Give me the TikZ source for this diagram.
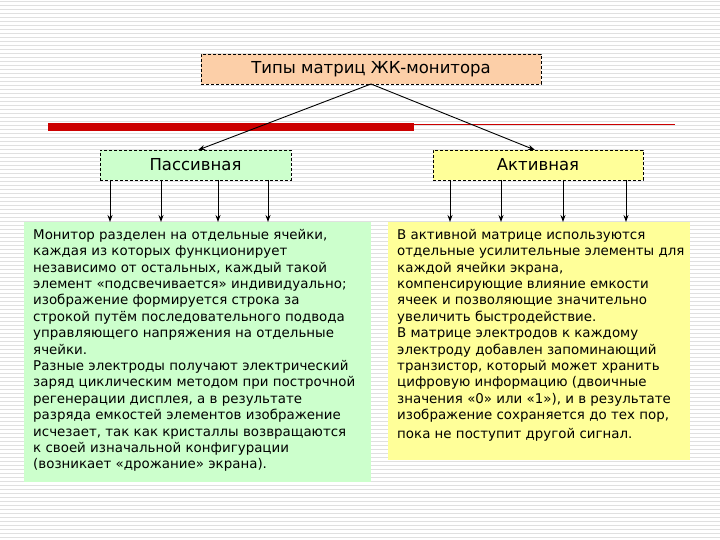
\documentclass[tikz,border=0pt]{standalone}
\usepackage{fontspec}
\setmainfont{DejaVu Sans}
\usetikzlibrary{arrows.meta}
\definecolor{topc}{HTML}{FCCFA8}
\definecolor{greenc}{HTML}{CCFFCC}
\definecolor{yellc}{HTML}{FFFF99}
\definecolor{redc}{HTML}{CC0000}
\begin{document}
\begin{tikzpicture}[x=1pt,y=-1pt,
  hbox/.style={draw=black,dashed,dash pattern=on 3pt off 2pt,minimum height=30pt,inner sep=0pt,font=\fontsize{16.5}{18}\selectfont},
  txt/.style={anchor=north west,inner sep=0pt,align=left,font=\fontsize{13.4}{16.4}\selectfont},
  arr/.style={-{Stealth[length=7pt,width=5pt]},line width=0.9pt}]
\useasboundingbox (0,0) rectangle (720,540);
\fill[white] (0,0) rectangle (720,540);
\foreach \i in {0,...,134} {\draw[black!12,line width=0.6pt] (0,\i*4+1) -- (720,\i*4+1);}
\fill[redc] (48,123) rectangle (414,131);
\draw[redc,line width=0.8pt] (414,124) -- (675,124);
\node[hbox,fill=topc,minimum width=340pt] (top) at (371,69) {Типы матриц ЖК-монитора};
\node[hbox,fill=greenc,minimum width=191pt] (pas) at (195.5,165) {Пассивная};
\node[hbox,fill=yellc,minimum width=210pt] (act) at (538,165) {Активная};
\fill[greenc] (24,222) rectangle (371,482);
\fill[yellc] (388,222) rectangle (690,460);
\node[txt] (lt) at (33,229) {Монитор разделен на отдельные ячейки,\\каждая из которых функционирует\\независимо от остальных, каждый такой\\элемент «подсвечивается» индивидуально;\\изображение формируется строка за\\строкой путём последовательного подвода\\управляющего напряжения на отдельные\\ячейки.\\Разные электроды получают электрический\\заряд циклическим методом при построчной\\регенерации дисплея, а в результате\\разряда емкостей элементов изображение\\исчезает, так как кристаллы возвращаются\\к своей изначальной конфигурации\\(возникает «дрожание» экрана).};
\node[txt] (rt) at (397,229) {В активной матрице используются\\отдельные усилительные элементы для\\каждой ячейки экрана,\\компенсирующие влияние емкости\\ячеек и позволяющие значительно\\увеличить быстродействие.\\В матрице электродов к каждому\\электроду добавлен запоминающий\\транзистор, который может хранить\\цифровую информацию (двоичные\\значения «0» или «1»), и в результате\\изображение сохраняется до тех пор,\\[2pt]пока не поступит другой сигнал.};
\coordinate (tb) at (371,84);
\draw[arr] (tb) -- (198,150);
\draw[arr] (tb) -- (535,150);
\foreach \x in {110,161,218,268} {\draw[arr] (\x,180) -- (\x,222);}
\foreach \x in {450,501,563,626} {\draw[arr] (\x,180) -- (\x,222);}
\end{tikzpicture}
\end{document}
